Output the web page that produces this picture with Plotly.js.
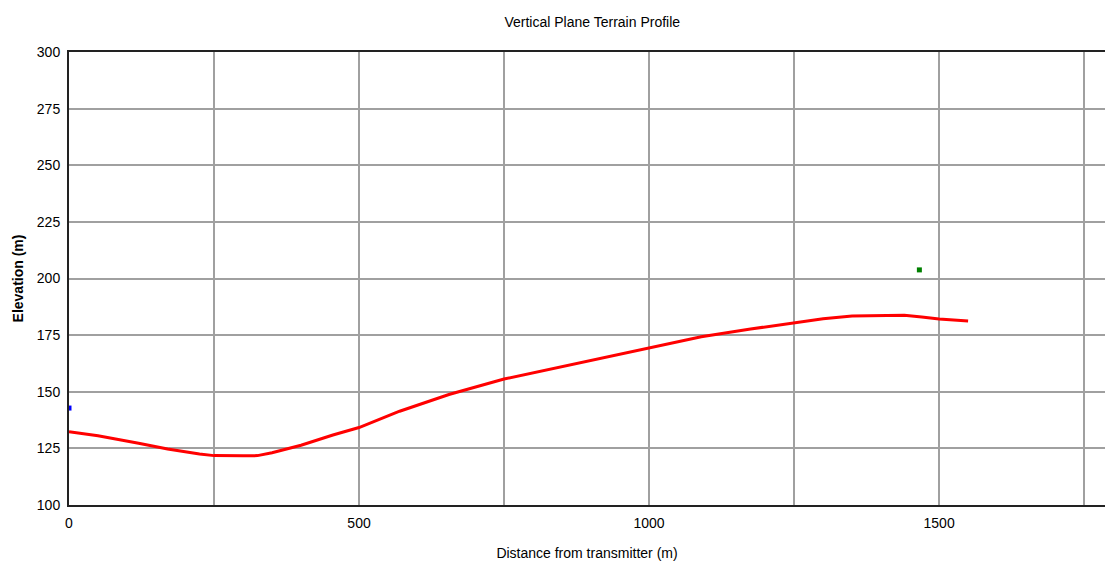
<!DOCTYPE html>
<html>
<head>
<meta charset="utf-8">
<script src="https://cdn.plot.ly/plotly-3.0.1.min.js"></script>
<style>html,body{margin:0;padding:0;background:#fff;}#chart{width:1105px;height:561px;}</style>
</head>
<body>
<div id="chart"></div>
<script>
const distance = [0, 50, 120, 170, 225, 250, 300, 325, 350, 400, 455, 500, 570, 655, 750, 830, 945, 1000, 1090, 1175, 1250, 1300, 1350, 1400, 1440, 1470, 1500, 1550];
const elevation = [132.3, 130.6, 127.3, 124.7, 122.5, 121.8, 121.7, 121.8, 123.1, 126.4, 130.9, 134.2, 141.4, 148.8, 155.6, 160.0, 166.2, 169.2, 174.3, 177.7, 180.5, 182.2, 183.4, 183.8, 183.8, 183.0, 182.1, 181.2];
const txDistance = [0];
const txHeight = [142.8];
const rxDistance = [1466];
const rxHeight = [203.8];
const yTicks = [100, 125, 150, 175, 200, 225, 250, 275, 300];
const xTicks = [0, 250, 500, 750, 1000, 1250, 1500, 1750];
const xTickLabels = ['0', '', '500', '', '1000', '', '1500', ''];

const traces = [
  {x: distance, y: elevation, mode: 'lines', line: {color: '#ff0000', width: 3}, hoverinfo: 'skip'},
  {x: txDistance, y: txHeight, mode: 'markers', marker: {color: '#0000ff', size: 5, symbol: 'square'}},
  {x: rxDistance, y: rxHeight, mode: 'markers', marker: {color: '#008000', size: 5, symbol: 'square'}}
];

const layout = {
  width: 1105, height: 561,
  margin: {l: 69, r: 0, t: 52, b: 56},
  paper_bgcolor: '#ffffff', plot_bgcolor: '#ffffff',
  showlegend: false,
  font: {family: 'Liberation Sans, Arial, sans-serif', size: 14, color: '#000'},
  title: {text: 'Vertical Plane Terrain Profile', x: 0.536, xanchor: 'center', y: 0.96, yanchor: 'middle', font: {size: 14, color: '#000'}},
  xaxis: {
    range: [0, 1786], tickmode: 'array', tickvals: xTicks, ticktext: xTickLabels,
    showgrid: true, gridcolor: '#a0a0a0', gridwidth: 2,
    showline: true, linecolor: '#222', linewidth: 2, mirror: true,
    zeroline: false, ticks: '', ticklabelstandoff: 4,
    tickfont: {size: 14},
    title: {text: 'Distance from transmitter (m)', standoff: 18, font: {size: 14}}
  },
  yaxis: {
    range: [100, 300], tickmode: 'array', tickvals: yTicks,
    showgrid: true, gridcolor: '#a0a0a0', gridwidth: 2,
    showline: true, linecolor: '#222', linewidth: 2,
    zeroline: false, ticks: '', ticklabelstandoff: 4,
    tickfont: {size: 14},
    title: {text: '<b>Elevation (m)</b>', standoff: 10, font: {size: 14}}
  }
};
Plotly.newPlot('chart', traces, layout, {displayModeBar: false, staticPlot: true});
</script>
</body>
</html>
